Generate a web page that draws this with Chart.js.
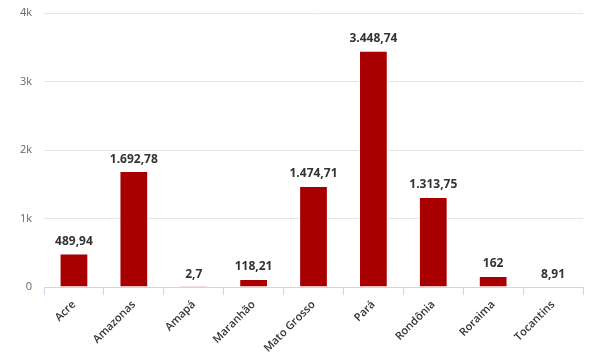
<!DOCTYPE html>
<html>
<head>
<meta charset="utf-8">
<script src="https://cdn.jsdelivr.net/npm/chart.js@4.4.1/dist/chart.umd.min.js"></script>
<style>
  html, body { margin: 0; padding: 0; background: #fff; }
  #wrap { width: 594px; height: 362px; }
</style>
</head>
<body>
<div id="wrap"><canvas id="chart"></canvas></div>
<script>
const states = ["Acre", "Amazonas", "Amapá", "Maranhão", "Mato Grosso", "Pará", "Rondônia", "Roraima", "Tocantins"];
const values = [489.94, 1692.78, 2.7, 118.21, 1474.71, 3448.74, 1313.75, 162, 8.91];
const yTicks = [0, 1000, 2000, 3000, 4000];

// pt-BR style: 1.692,78
function fmt(v) {
    const parts = String(v).split(".");
    const int = parts[0].replace(/\B(?=(\d{3})+(?!\d))/g, ".");
    return parts[1] ? int + "," + parts[1] : int;
}

// simple value labels above bars
const barLabels = {
    id: "barLabels",
    afterDatasetsDraw(chart) {
        const ctx = chart.ctx;
        const meta = chart.getDatasetMeta(0);
        ctx.save();
        ctx.font = "bold 12px 'Open Sans'";
        ctx.fillStyle = "#333333";
        ctx.textAlign = "center";
        ctx.textBaseline = "bottom";
        meta.data.forEach((bar, i) => {
            ctx.fillText(fmt(values[i]), bar.x, bar.y - 6);
        });
        ctx.restore();
    }
};

const ctx = document.getElementById("chart").getContext("2d");
new Chart(ctx, {
    type: "bar",
    data: {
        labels: states,
        datasets: [{
            data: values,
            backgroundColor: "#a80000",
            borderColor: "#ffffff",
            borderWidth: 1,
            categoryPercentage: 1,
            barPercentage: 0.48
        }]
    },
    options: {
        responsive: true,
        maintainAspectRatio: false,
        animation: false,
        layout: { padding: { top: 13, right: 11, left: 0, bottom: 4 } },
        plugins: {
            legend: { display: false },
            tooltip: { enabled: false }
        },
        scales: {
            x: {
                grid: {
                    offset: true,
                    drawOnChartArea: false,
                    tickLength: 8,
                    color: "#ccd6eb"
                },
                border: { color: "#ccd6eb" },
                ticks: {
                    minRotation: 45,
                    maxRotation: 45,
                    color: "#333333",
                    font: { family: "'Open Sans'", size: 11, weight: "600" }
                }
            },
            y: {
                min: 0,
                max: 4000,
                afterBuildTicks: s => { s.ticks = yTicks.map(v => ({ value: v })); },
                afterFit: s => { s.width = 44; s.paddingTop = 0; },
                grid: { color: "#e6e6e6", drawTicks: false },
                border: { display: false },
                ticks: {
                    padding: 12,
                    color: "#666666",
                    font: { family: "'Open Sans'", size: 11 },
                    callback: v => v === 0 ? "0" : (v / 1000) + "k"
                }
            }
        }
    },
    plugins: [barLabels]
});
</script>
</body>
</html>
